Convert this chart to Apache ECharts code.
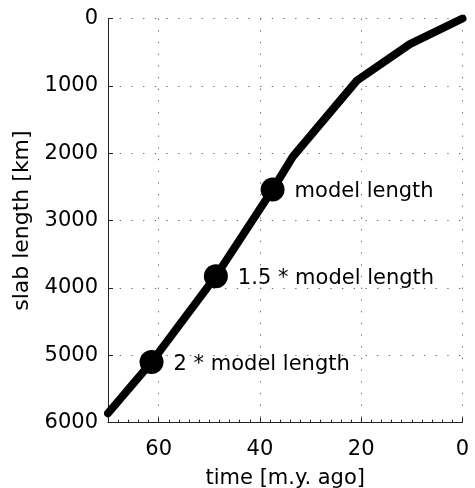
<!DOCTYPE html>
<html>
<head>
<meta charset="utf-8">
<script src="https://cdn.jsdelivr.net/npm/echarts@6/dist/echarts.min.js"></script>
<style>
html,body{margin:0;padding:0;background:#fff;}
#chart{width:475px;height:488px;}
</style>
</head>
<body>
<div id="chart"></div>
<script>
// Data
var times   = [0, 10.4, 20.9, 33.5, 37.5, 48.7, 61.4, 70];
var lengths = [0, 380, 925, 2050, 2540, 3825, 5100, 5860];
var markerTimes   = [37.5, 48.7, 61.4];
var markerLengths = [2540, 3825, 5100];
var markerLabels  = ['model length', '1.5 * model length', '2 * model length'];
var xTicks = [0, 20, 40, 60];
var yTicks = [0, 1000, 2000, 3000, 4000, 5000, 6000];

var FONT = 'DejaVu Sans';
var FS = 21;

var lineData = times.map(function (t, i) { return [t, lengths[i]]; });
var markerData = markerTimes.map(function (t, i) {
  return { value: [t, markerLengths[i]], name: markerLabels[i] };
});

var gridLine = { show: true, lineStyle: { color: '#666', width: 1, type: [1.3, 10.4] } };

var chart = echarts.init(document.getElementById('chart'), null, { renderer: 'canvas' });
chart.setOption({
  animation: false,
  backgroundColor: '#fff',
  grid: { left: 108, top: 18.5, right: 12.5, bottom: 65.3, containLabel: false, outerBoundsMode: 'none' },
  xAxis: {
    type: 'value', inverse: true, min: 0, max: 70, interval: 20,
    name: 'time [m.y. ago]', nameLocation: 'middle', nameGap: 45,
    nameTextStyle: { fontFamily: FONT, fontSize: FS, color: '#000' },
    axisLine: { show: true, onZero: false, lineStyle: { color: '#222', width: 1 } },
    axisTick: { show: true, inside: true, length: 5, lineStyle: { color: '#222' } },
    minorTick: { show: true, splitNumber: 10, length: 3, lineStyle: { color: '#222' } },
    axisLabel: {
      margin: 16, fontFamily: FONT, fontSize: FS, color: '#000',
      formatter: function (v) { return xTicks.indexOf(v) >= 0 ? String(v) : ''; }
    },
    splitLine: gridLine
  },
  yAxis: {
    type: 'value', inverse: true, min: 0, max: 6000, interval: 1000,
    name: 'slab length [km]', nameLocation: 'middle', nameGap: 69, nameRotate: 90,
    nameTextStyle: { fontFamily: FONT, fontSize: 22, color: '#000' },
    axisLine: { show: true, onZero: false, lineStyle: { color: '#222', width: 1 } },
    axisTick: { show: true, inside: true, length: 5, lineStyle: { color: '#222' } },
    axisLabel: {
      margin: 10, fontFamily: FONT, fontSize: FS, color: '#000',
      formatter: function (v) { return yTicks.indexOf(v) >= 0 ? String(v) : ''; }
    },
    splitLine: gridLine
  },
  series: [
    {
      type: 'line', data: lineData, showSymbol: false, symbol: 'none',
      lineStyle: { color: '#000', width: 8, cap: 'round', join: 'round' },
      z: 3
    },
    {
      type: 'scatter', data: markerData, symbol: 'circle', symbolSize: 24,
      itemStyle: { color: '#000', opacity: 1 }, z: 4,
      emphasis: { disabled: true },
      label: {
        show: true, position: 'right', distance: 10,
        fontFamily: FONT, fontSize: FS, color: '#000', opacity: 1,
        offset: [0, 2],
        formatter: function (p) { return p.name; }
      }
    }
  ]
});
</script>
</body>
</html>
